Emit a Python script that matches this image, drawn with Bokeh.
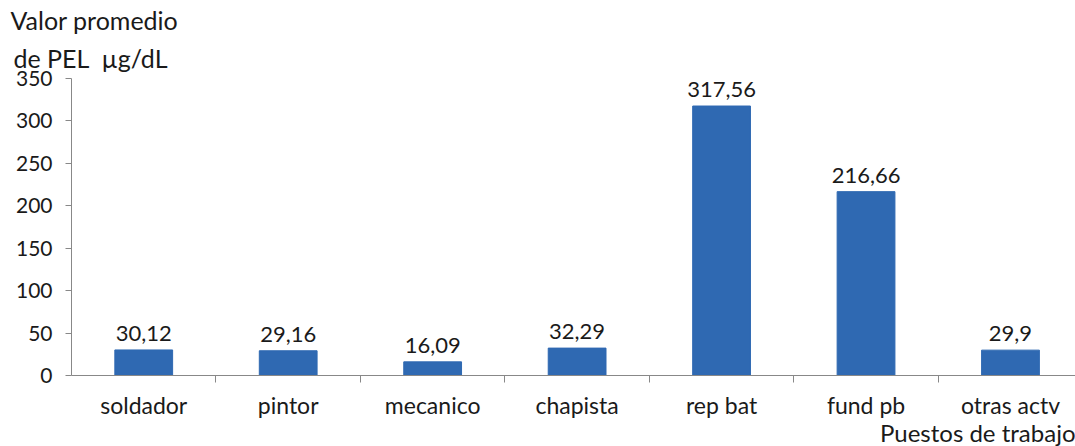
from bokeh.plotting import figure
from bokeh.models import ColumnDataSource, FixedTicker, Title, Range1d, LabelSet
from bokeh.core.properties import value
from bokeh.embed import file_html
from bokeh.resources import INLINE

categories = ["soldador", "pintor", "mecanico", "chapista", "rep bat", "fund pb", "otras actv"]
values = [30.12, 29.16, 16.09, 32.29, 317.56, 216.66, 29.9]
value_labels = ["30,12", "29,16", "16,09", "32,29", "317,56", "216,66", "29,9"]
y_ticks = [0, 50, 100, 150, 200, 250, 300, 350]

FONT = "Lato"
xs = list(range(len(categories)))
src = ColumnDataSource(dict(x=xs, top=values, lab=value_labels))

p = figure(width=1075, height=446, output_backend="svg", toolbar_location=None,
           x_range=Range1d(-0.5, 6.45), y_range=Range1d(0, 350),
           min_border_left=71, min_border_right=0, min_border_top=78, min_border_bottom=71)
p.outline_line_color = None
p.grid.visible = False
p.background_fill_color = "white"

p.vbar(x="x", top="top", width=0.4, bottom=0, source=src, color="#2F69B2")

p.add_layout(LabelSet(x="x", y="top", text="lab", source=src, text_align="center",
                      text_baseline="bottom", y_offset=9, text_font=value(FONT),
                      text_font_size="22px", text_color="#1a1a1a"))

xa = p.xaxis[0]
xa.ticker = FixedTicker(ticks=xs, minor_ticks=[i + 0.5 for i in xs[:-1]])
xa.major_label_overrides = {i: c for i, c in enumerate(categories)}
xa.major_tick_out = 0
xa.major_tick_in = 0
xa.minor_tick_out = 7
xa.minor_tick_in = 0
xa.minor_tick_line_color = "#888888"
xa.axis_line_color = "#888888"
xa.major_label_text_font = FONT
xa.major_label_text_font_size = "23px"
xa.major_label_text_color = "#1a1a1a"
xa.major_label_standoff = 8

ya = p.yaxis[0]
ya.ticker = FixedTicker(ticks=y_ticks)
ya.major_tick_out = 6
ya.major_tick_in = 0
ya.minor_tick_out = 0
ya.minor_tick_in = 0
ya.major_tick_line_color = "#888888"
ya.axis_line_color = "#888888"
ya.major_label_text_font = FONT
ya.major_label_text_font_size = "21px"
ya.major_label_text_color = "#1a1a1a"
ya.major_label_standoff = 13

t2 = Title(text="de PEL\u00a0\u00a0µg/dL", align="left", offset=-58, text_font=FONT,
           text_font_size="25px", text_font_style="normal", text_color="#1a1a1a",
           standoff=12, text_line_height=1.0)
t1 = Title(text="Valor promedio", align="left", offset=-61, text_font=FONT,
           text_font_size="25px", text_font_style="normal", text_color="#1a1a1a",
           standoff=0, text_line_height=1.0)
p.add_layout(t2, "above")
p.add_layout(t1, "above")
tb = Title(text="Puestos de trabajo", align="right", offset=0, text_font=FONT,
           text_font_size="24px", text_font_style="normal", text_color="#1a1a1a",
           standoff=-11, text_line_height=1.0)
p.add_layout(tb, "below")

open("out.html", "w").write(file_html(p, INLINE))
